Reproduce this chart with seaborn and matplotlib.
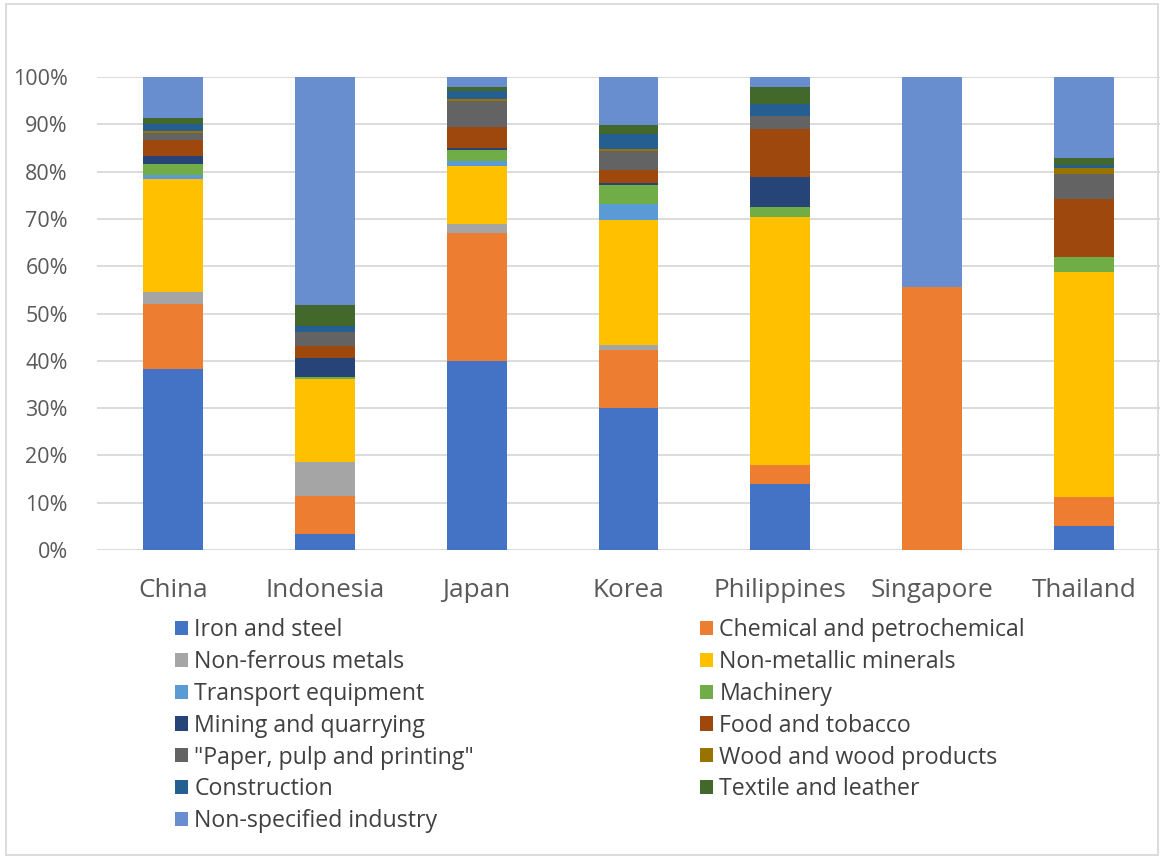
import numpy as np
import pandas as pd
import matplotlib
matplotlib.use("Agg")
import matplotlib.pyplot as plt
from matplotlib.patches import Patch, Rectangle
from matplotlib.ticker import FuncFormatter
import seaborn as sns

countries = ["China", "Indonesia", "Japan", "Korea", "Philippines", "Singapore", "Thailand"]

sectors = [
    "Iron and steel",
    "Chemical and petrochemical",
    "Non-ferrous metals",
    "Non-metallic minerals",
    "Transport equipment",
    "Machinery",
    "Mining and quarrying",
    "Food and tobacco",
    "\"Paper, pulp and printing\"",
    "Wood and wood products",
    "Construction",
    "Textile and leather",
    "Non-specified industry",
]

# Share of industrial energy use by sector (%), one list per sector, countries in order above
iron_steel      = [38.2,  3.3, 40.0, 30.1, 14.0,  0.0,  5.1]
chemical        = [13.9,  8.1, 27.1, 12.2,  4.0, 55.7,  6.1]
non_ferrous     = [ 2.5,  7.3,  1.9,  1.0,  0.0,  0.0,  0.0]
non_metallic    = [23.8, 17.5, 12.1, 26.4, 52.3,  0.0, 47.6]
transport_eq    = [ 0.8,  0.0,  1.2,  3.4,  0.0,  0.0,  0.0]
machinery       = [ 2.5,  0.3,  2.2,  4.1,  2.3,  0.0,  3.2]
mining          = [ 1.6,  4.0,  0.5,  0.4,  6.2,  0.0,  0.0]
food_tobacco    = [ 3.4,  2.6,  4.4,  2.8, 10.3,  0.0, 12.3]
paper_pulp      = [ 1.4,  2.9,  5.6,  3.9,  2.7,  0.0,  5.1]
wood            = [ 0.5,  0.0,  0.3,  0.4,  0.0,  0.0,  1.4]
construction    = [ 1.4,  1.3,  1.8,  3.2,  2.4,  0.0,  0.7]
textile         = [ 1.4,  4.6,  0.7,  2.0,  3.6,  0.0,  1.3]
non_specified   = [ 8.6, 48.1,  2.2, 10.1,  2.2, 44.3, 17.2]

series = [iron_steel, chemical, non_ferrous, non_metallic, transport_eq, machinery,
          mining, food_tobacco, paper_pulp, wood, construction, textile, non_specified]

colors = ["#4472C4", "#ED7D31", "#A5A5A5", "#FFC000", "#5B9BD5", "#70AD47",
          "#264478", "#9E480E", "#636363", "#997300", "#255E91", "#43682B", "#698ED0"]

sns.set_theme(style="white")
plt.rcParams["font.family"] = ["Open Sans", "DejaVu Sans"]

fig = plt.figure(figsize=(11.6, 8.59), dpi=100)
W, H = 1160, 859
ax = fig.add_axes([97 / W, 1 - 550 / H, (1160 - 97) / W, (550 - 77) / H])

df = pd.DataFrame(dict(zip(sectors, series)), index=countries)
cum = df.cumsum(axis=1)

# Stacked bars: draw cumulative totals from the top layer down so lower layers overlay
for sector, color in reversed(list(zip(sectors, colors))):
    d = pd.DataFrame({"country": countries, "value": cum[sector].values})
    sns.barplot(data=d, x="country", y="value", color=color, width=0.395,
                saturation=1, ax=ax, linewidth=0, zorder=3)

ax.set_ylim(0, 100)
ax.set_xlim(-0.5, len(countries) - 0.5)
ax.set_yticks(np.arange(0, 101, 10))
ax.yaxis.set_major_formatter(FuncFormatter(lambda v, p: f"{v:.0f}%"))
ax.yaxis.grid(True, color="#D9D9D9", linewidth=1.3, zorder=0)
ax.set_axisbelow(True)
for s in ax.spines.values():
    s.set_visible(False)
ax.set_xlabel("")
ax.set_ylabel("")
ax.tick_params(axis="y", labelsize=15.5, colors="#595959", pad=21, length=0)
ax.tick_params(axis="x", labelsize=18.8, colors="#595959", pad=20, length=0)

handles = [Patch(facecolor=c, edgecolor="none") for c in colors]
left_idx = list(range(0, 13, 2))
right_idx = list(range(1, 13, 2))
common = dict(frameon=False, fontsize=16.7, handlelength=0.56, handleheight=0.56,
              handletextpad=0.28, labelspacing=0.34, labelcolor="#404040",
              borderpad=0, borderaxespad=0, loc="upper left")
leg1 = fig.legend([handles[i] for i in left_idx], [sectors[i] for i in left_idx],
                  bbox_to_anchor=(175 / W, 1 - 618 / H), **common)
leg2 = fig.legend([handles[i] for i in right_idx], [sectors[i] for i in right_idx],
                  bbox_to_anchor=(700 / W, 1 - 618 / H), **common)

fig.patches.append(Rectangle((6 / W, 4 / H), (W - 8) / W, (H - 8) / H,
                             transform=fig.transFigure, fill=False,
                             edgecolor="#D9D9D9", linewidth=1.3))

fig.savefig("out.png", dpi=100)
